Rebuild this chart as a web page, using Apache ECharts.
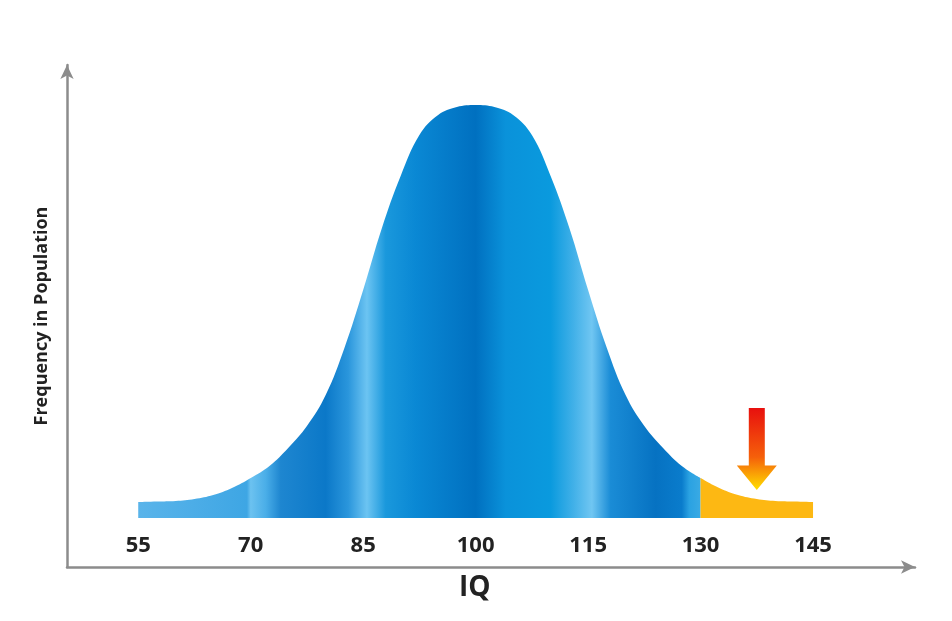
<!DOCTYPE html>
<html><head><meta charset="utf-8">
<script src="https://cdn.jsdelivr.net/npm/echarts@6/dist/echarts.min.js"></script>
<style>html,body{margin:0;padding:0;background:#fff}#c{width:952px;height:621px}</style>
</head><body><div id="c"></div>
<script>
const iqBlue = [55,57.5,60,62.5,65,67.5,70,72.5,75,77.5,80,82.5,85,87.5,90,92.5,95,97.5,100,102.5,105,107.5,110,112.5,115,117.5,120,122.5,125,127.5,130];
const freqBlue = [16,16.5,17,19,23,30,40,52,70,92,123,170,228,290,342,383,403,411,413,411,403,383,342,290,228,170,123,92,70,52,40];
const iqGold = [130,132.5,135,137.5,140,142.5,145];
const freqGold = [40,30,23,19,17,16.5,16];
const tickLabels = [55,70,85,100,115,130,145];

const chart = echarts.init(document.getElementById('c'));
const f = x => (x-55)/75;
const blueGrad = new echarts.graphic.LinearGradient(0,0,1,0,[
 {offset:0,color:'#5ab4ea'},{offset:f(69.5),color:'#3ea6e4'},
 {offset:f(70),color:'#6cc2f0'},{offset:f(72),color:'#4aaee8'},
 {offset:f(74),color:'#1e86d0'},{offset:f(80),color:'#0b78c8'},
 {offset:f(83),color:'#2a96dc'},{offset:f(85.5),color:'#6cc4f2'},
 {offset:f(88),color:'#1a98dc'},{offset:f(92),color:'#0a88d4'},
 {offset:f(100),color:'#0070c0'},{offset:f(104),color:'#0a92da'},
 {offset:f(110),color:'#0a9ade'},{offset:f(113),color:'#40b0e8'},
 {offset:f(115.5),color:'#70c6f2'},{offset:f(118),color:'#1a8cd6'},
 {offset:f(124),color:'#0672c2'},{offset:f(127.5),color:'#0a7ccc'},
 {offset:f(128.5),color:'#2aa2e2'},{offset:1,color:'#3aaae4'}
]);
const pairs=(a,b)=>a.map((v,i)=>[v,b[i]]);
chart.setOption({
 animation:false,
 grid:{left:67,right:37,top:65,bottom:54},
 xAxis:{type:'value',min:45.5,max:158.6,splitLine:{show:false},
  axisLine:{onZero:false,lineStyle:{color:'#8c8c8c',width:2.5},symbol:['none','arrow'],symbolSize:[10,14]},
  axisTick:{show:false},
  axisLabel:{customValues:tickLabels,inside:true,margin:10,fontFamily:'Open Sans',fontWeight:'bold',fontSize:22,color:'#222'}},
 yAxis:{type:'value',min:-49,max:453,splitLine:{show:false},
  axisLine:{show:true,onZero:false,lineStyle:{color:'#8c8c8c',width:2.5},symbol:['none','arrow'],symbolSize:[10,14]},
  axisTick:{show:false},axisLabel:{show:false},
  name:'Frequency in Population',nameLocation:'middle',nameGap:16,
  nameTextStyle:{fontFamily:'Open Sans',fontWeight:'bold',fontSize:18,color:'#222'}},
 graphic:[{type:'text',left:459,top:574,style:{text:'IQ',font:'bold 28px "Open Sans"',fill:'#222'}}],
 series:[
  {type:'line',data:pairs(iqBlue,freqBlue),smooth:0.4,symbol:'none',lineStyle:{width:0},
   areaStyle:{color:blueGrad,origin:0,opacity:1}},
  {type:'line',data:pairs(iqGold,freqGold),smooth:0.4,symbol:'none',lineStyle:{width:0},
   areaStyle:{color:'#fdb813',origin:0,opacity:1},
   markPoint:{silent:true,symbol:'path://M3,0 L7,0 L7,14 L10,14 L5,20 L0,14 L3,14 Z',symbolSize:[40,82],
    symbolKeepAspect:false,label:{show:false},
    itemStyle:{color:new echarts.graphic.LinearGradient(0,0,0,1,[{offset:0,color:'#e8100e'},{offset:0.6,color:'#f5600a'},{offset:1,color:'#ffe000'}])},
    data:[{coord:[137.5,69]}]}}
 ]
});
</script></body></html>
